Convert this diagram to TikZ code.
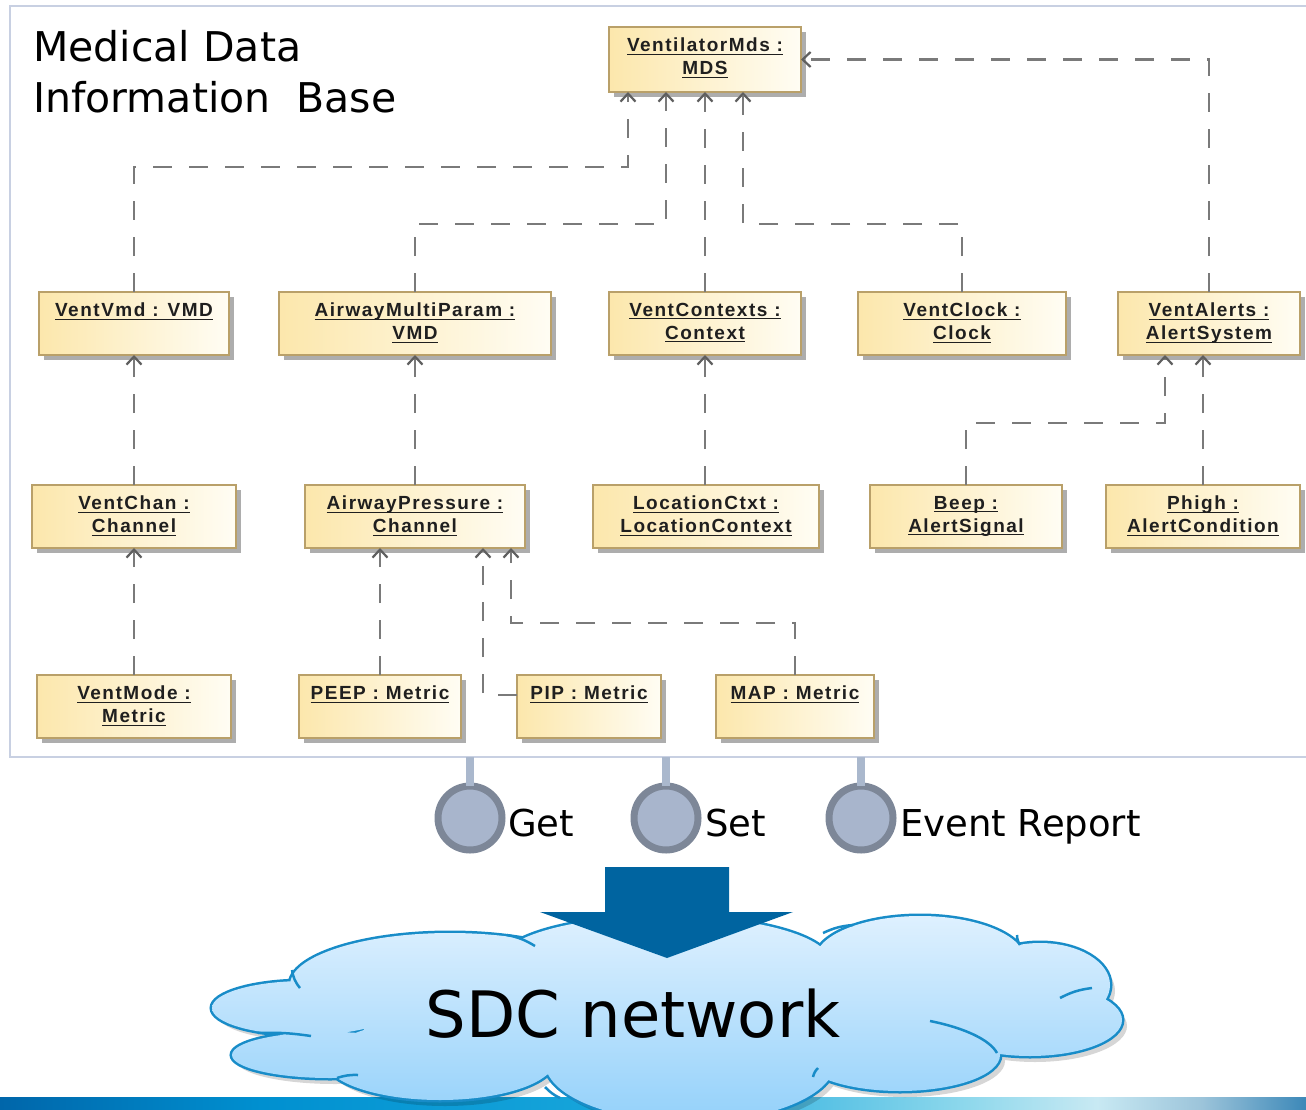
\documentclass[tikz,border=0pt]{standalone}
\usepackage{fontspec}
\setmainfont{DejaVu Sans}
\newfontfamily\umlfont[LetterSpace=8]{Liberation Sans}
\usetikzlibrary{arrows.meta,shadows,calc}

% palette
\definecolor{boxedge}{RGB}{185,160,105}
\definecolor{boxwarm}{RGB}{252,231,172}
\definecolor{boxpale}{RGB}{255,253,244}
\definecolor{depgrey}{RGB}{122,122,122}
\definecolor{tipgrey}{RGB}{95,95,95}
\definecolor{framecol}{RGB}{200,208,226}
\definecolor{stemcol}{RGB}{170,184,205}
\definecolor{lollyfill}{RGB}{168,181,204}
\definecolor{lollyedge}{RGB}{125,135,152}
\definecolor{arrowblue}{RGB}{0,100,160}
\definecolor{cloudedge}{RGB}{24,140,200}
\definecolor{cloudtop}{RGB}{226,242,255}
\definecolor{cloudbottom}{RGB}{150,210,250}
\definecolor{barA}{RGB}{0,102,170}
\definecolor{barB}{RGB}{0,144,208}
\definecolor{barC}{RGB}{26,168,220}
\definecolor{barD}{RGB}{142,216,236}
\definecolor{barE}{RGB}{200,233,243}
\definecolor{barF}{RGB}{156,196,218}
\definecolor{barG}{RGB}{60,136,184}

% footer band
\pgfdeclarehorizontalshading{sdcbar}{100bp}{color(0bp)=(barA); color(25bp)=(barA);
  color(35bp)=(barB); color(50bp)=(barC); color(62bp)=(barD); color(67bp)=(barE);
  color(71bp)=(barF); color(75bp)=(barG); color(100bp)=(barG)}

% underlined UML instance name
\newcommand\ulin[1]{\setbox0\hbox{#1}\rlap{\rule[-3pt]{\wd0}{1.3pt}}\box0}

% lobes of the network cloud
\newcommand\cloudlobes{(305,1008) ellipse [x radius=93, y radius=27]
  (330,1055) ellipse [x radius=98, y radius=23]
  (450,985) ellipse [x radius=160, y radius=52]
  (665,962) ellipse [x radius=165, y radius=46]
  (920,960) ellipse [x radius=105, y radius=44]
  (1040,985) ellipse [x radius=70, y radius=42]
  (1030,1020) ellipse [x radius=92, y radius=36]
  (900,1055) ellipse [x radius=100, y radius=36]
  (690,1062) ellipse [x radius=145, y radius=60]
  (440,1060) ellipse [x radius=115, y radius=40]}
\newcommand\cloudcore{(680,1020) ellipse [x radius=320, y radius=60]}

\tikzset{
  umlbox/.style={draw=boxedge, line width=1.5pt, left color=boxwarm, right color=boxpale,
    general shadow={fill=black!32, shadow xshift=5pt, shadow yshift=-5pt},
    minimum height=63pt, inner sep=0pt, outer sep=0pt},
  umltext/.style={font=\umlfont\bfseries\fontsize{19}{23}\selectfont, text=black!88,
    align=center, inner sep=0pt, anchor=north},
  dep/.style={draw=depgrey, line width=2.2pt, dash pattern=on 19pt off 17pt,
    -{Straight Barb[length=8pt,width=15pt,color=tipgrey]}},
  lolly/.style={circle, draw=lollyedge, line width=7pt, fill=lollyfill,
    minimum size=64pt, inner sep=0pt, outer sep=0pt},
  stem/.style={draw=stemcol, line width=8pt},
  iface/.style={anchor=base west, inner sep=0pt, font=\fontsize{37}{44}\selectfont},
  title/.style={anchor=base west, inner sep=0pt, font=\fontsize{41}{48}\selectfont},
}

% one UML object: name, centre x, centre y, width, label
\newcommand\umlobj[5]{%
  \node[umlbox, minimum width=#4pt] (#1) at (#2,#3) {};
  \node[umltext] (#1-t) at ([yshift=-11pt]#1.north) {#5};}

\begin{document}
\begin{tikzpicture}[x=1pt,y=-1pt]
\useasboundingbox (0,0) rectangle (1306,1110);

% MDIB frame
\node[draw=framecol, line width=2.5pt, minimum width=1320pt, minimum height=751pt,
  inner sep=0pt, outer sep=0pt] (mdib) at (670,381.5) {};
\node[title] (title1) at (33,62) {Medical Data};
\node[title] (title2) at (33,113) {Information\ \ Base};

% containment tree
\node[umlbox, minimum width=192pt, minimum height=65pt] (mds) at (705,59.5) {};
\node[umltext] (mds-t) at ([yshift=-11pt]mds.north) {\ulin{VentilatorMds :}\\\ulin{MDS}};

\umlobj{vmd}{134}{323.5}{190}{\ulin{VentVmd : VMD}}
\umlobj{amp}{415}{323.5}{272}{\ulin{AirwayMultiParam :}\\\ulin{VMD}}
\umlobj{ctx}{705}{323.5}{192}{\ulin{VentContexts :}\\\ulin{Context}}
\umlobj{clk}{962}{323.5}{208}{\ulin{VentClock :}\\\ulin{Clock}}
\umlobj{alr}{1209}{323.5}{182}{\ulin{VentAlerts :}\\\ulin{AlertSystem}}

\umlobj{chan}{134}{516.5}{204}{\ulin{VentChan :}\\\ulin{Channel}}
\umlobj{apc}{415}{516.5}{220}{\ulin{AirwayPressure :}\\\ulin{Channel}}
\umlobj{loc}{706}{516.5}{226}{\ulin{LocationCtxt :}\\\ulin{LocationContext}}
\umlobj{beep}{966}{516.5}{192}{\ulin{Beep :}\\\ulin{AlertSignal}}
\umlobj{phigh}{1203}{516.5}{194}{\ulin{Phigh :}\\\ulin{AlertCondition}}

\umlobj{mode}{134}{706.5}{194}{\ulin{VentMode :}\\\ulin{Metric}}
\umlobj{peep}{380}{706.5}{162}{\ulin{PEEP : Metric}}
\umlobj{pip}{589}{706.5}{144}{\ulin{PIP : Metric}}
\umlobj{map}{795}{706.5}{158}{\ulin{MAP : Metric}}

% dependencies
\coordinate (j1) at (628,167);
\coordinate (j2) at (666,224);
\coordinate (j4) at (743,224);
\coordinate (j9) at (1165,423);
\coordinate (j13) at (483,695);
\coordinate (j14) at (511,623);
\draw[dep] (vmd.north) |- (j1) -- (mds.south -| j1);
\draw[dep] (amp.north) |- (j2) -- (mds.south -| j2);
\draw[dep] (ctx.north) -- (mds.south);
\draw[dep] (clk.north) |- (j4) -- (mds.south -| j4);
\draw[dep] (alr.north) |- (mds.east);
\draw[dep] (chan.north) -- (vmd.south);
\draw[dep] (apc.north) -- (amp.south);
\draw[dep] (loc.north -| ctx.south) -- (ctx.south);
\draw[dep] (beep.north) |- (j9) -- (alr.south -| j9);
\draw[dep] (phigh.north) -- (alr.south -| phigh.north);
\draw[dep] (mode.north) -- (chan.south);
\draw[dep] (peep.north) -- (apc.south -| peep.north);
\draw[dep] (pip.west |- j13) -- (j13) -- (apc.south -| j13);
\draw[dep] (map.north) |- (j14) -- (apc.south -| j14);

% service interfaces
\node[lolly] (get) at (470,818) {};
\node[lolly] (set) at (666,818) {};
\node[lolly] (evt) at (861,818) {};
\draw[stem] (get.north |- mdib.south) -- (get.north);
\draw[stem] (set.north |- mdib.south) -- (set.north);
\draw[stem] (evt.north |- mdib.south) -- (evt.north);
\node[iface] (get-l) at (508,836) {Get};
\node[iface] (set-l) at (705,836) {Set};
\node[iface] (evt-l) at (900,836) {Event Report};

% footer band
\shade[shading=sdcbar] (0,1097) rectangle (1306,1110);

% network cloud
\fill[black, opacity=0.16, shift={(5,6)}] \cloudlobes \cloudcore;
\draw[cloudedge, line width=5pt] \cloudlobes;
\begin{scope}
  \clip \cloudlobes \cloudcore;
  \shade[top color=cloudtop, bottom color=cloudbottom] (200,905) rectangle (1135,1115);
\end{scope}
\begin{scope}[cloudedge, line width=2.5pt]
  \draw (292,970) to[bend right=15] (300,988);
  \draw (507,935) to[bend left=10] (535,946);
  \draw (258,1033) to[bend left=5] (311,1036);
  \draw (337,1078) to[bend left=10] (358,1075);
  \draw (823,933) to[bend left=10] (853,925);
  \draw (1020,945) to[bend left=15] (1017,935);
  \draw (1092,988) to[bend right=10] (1060,998);
  \draw (930,1021) .. controls (965,1028) and (990,1040) .. (997,1053);
  \draw (813,1077) to[bend left=15] (818,1068);
  \draw (545,1087) to[bend right=10] (560,1098);
\end{scope}
\node[anchor=base, inner sep=0pt, font=\fontsize{64}{72}\selectfont] (sdc) at (633,1037) {SDC network};

% publish arrow
\fill[arrowblue] (605,867) -- (729,867) -- (729,912) -- (793,912) -- (667,958)
  -- (540,912) -- (605,912) -- cycle;
\end{tikzpicture}
\end{document}
